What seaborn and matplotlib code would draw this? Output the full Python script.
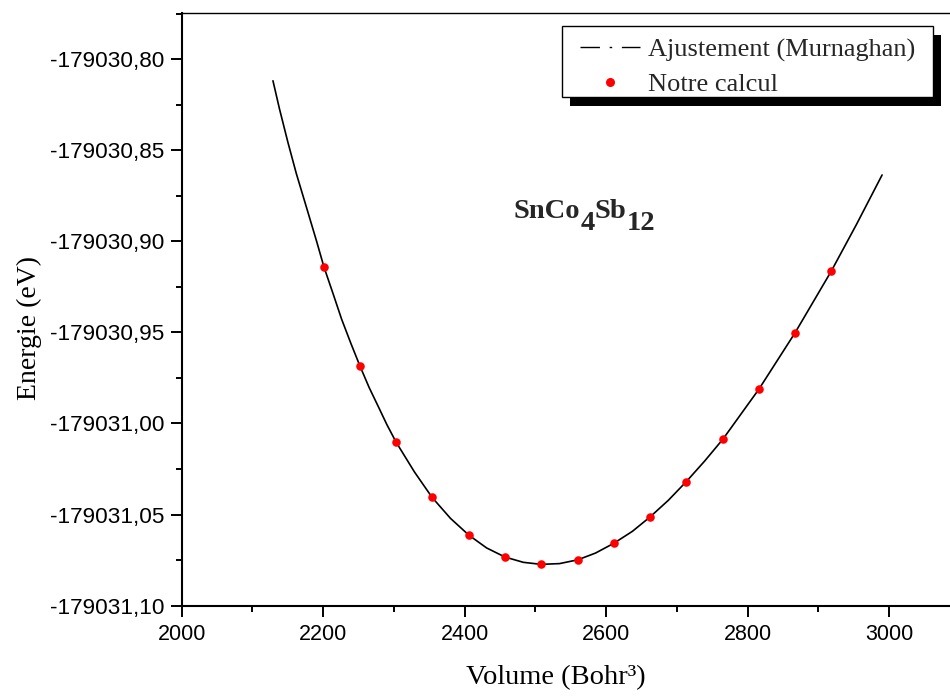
import numpy as np
import pandas as pd
import matplotlib
matplotlib.use("Agg")
import matplotlib.pyplot as plt
import seaborn as sns
from matplotlib.ticker import MultipleLocator, FuncFormatter
from matplotlib.lines import Line2D
from matplotlib.patches import Rectangle

# ---- data ----
volume_calc = [2201, 2252, 2303, 2354, 2406, 2457, 2508, 2560, 2611, 2662,
               2713, 2765, 2816, 2867, 2918]
energy_calc = [-179030.9140, -179030.9685, -179031.0102, -179031.0406, -179031.0613,
               -179031.0733, -179031.0773, -179031.0748, -179031.0657, -179031.0513,
               -179031.0320, -179031.0086, -179030.9811, -179030.9502, -179030.9165]

volume_fit = [2129, 2138, 2150, 2162, 2177, 2191, 2201, 2214, 2226, 2239, 2252, 2265,
              2278, 2290, 2303, 2329, 2354, 2380, 2406, 2431, 2457, 2483, 2508, 2534,
              2560, 2585, 2611, 2637, 2662, 2688, 2713, 2739, 2765, 2816, 2867, 2918,
              2954, 2990]
energy_fit = [-179030.8119, -179030.8270, -179030.8455, -179030.8628, -179030.8822,
              -179030.9004, -179030.9140, -179030.9288, -179030.9427, -179030.9559,
              -179030.9685, -179030.9803, -179030.9908, -179031.0006, -179031.0102,
              -179031.0266, -179031.0406, -179031.0521, -179031.0613, -179031.0683,
              -179031.0733, -179031.0762, -179031.0773, -179031.0769, -179031.0748,
              -179031.0711, -179031.0657, -179031.0592, -179031.0513, -179031.0421,
              -179031.0320, -179031.0207, -179031.0086, -179030.9811, -179030.9502,
              -179030.9165, -179030.8906, -179030.8636]

label_fit = "Ajustement (Murnaghan)"
label_calc = "Notre calcul"
x_label = "Volume (Bohr³)"
y_label = "Energie (eV)"

df_calc = pd.DataFrame({"V": volume_calc, "E": energy_calc})
df_fit = pd.DataFrame({"V": volume_fit, "E": energy_fit})

sns.set_theme(style="ticks")
plt.rcParams["font.family"] = ["Liberation Serif", "DejaVu Serif"]
plt.rcParams["mathtext.fontset"] = "stix"

fig = plt.figure(figsize=(9.5, 6.98), dpi=100)
ax = fig.add_axes([181.7 / 950, 1 - 605.7 / 698, 1 - 181.7 / 950, (605.7 - 13) / 698])

sns.lineplot(data=df_fit, x="V", y="E", sort=False, estimator=None, color="black",
             linewidth=1.2, ax=ax, zorder=2)
sns.scatterplot(data=df_calc, x="V", y="E", color="#ff0000", s=38, linewidth=0,
                ax=ax, zorder=3)

ax.set_xlim(2000, 3086)
ax.set_ylim(-179031.10, -179030.7747)

ax.xaxis.set_major_locator(MultipleLocator(200))
ax.xaxis.set_minor_locator(MultipleLocator(100))
ax.yaxis.set_major_locator(MultipleLocator(0.05))
ax.yaxis.set_minor_locator(MultipleLocator(0.025))
ax.yaxis.set_major_formatter(FuncFormatter(lambda v, p: f"{v:.2f}".replace(".", ",")))
ax.xaxis.set_major_formatter(FuncFormatter(lambda v, p: f"{v:.0f}"))

ax.tick_params(axis="both", which="major", direction="out", length=8, width=1.4,
               color="black")
ax.tick_params(axis="both", which="minor", direction="out", length=4.3, width=1.4,
               color="black")
ax.tick_params(axis="x", which="major", pad=5.5, labelsize=15.5)
ax.tick_params(axis="y", which="major", pad=4.5, labelsize=16.2)
for lab in ax.get_xticklabels() + ax.get_yticklabels():
    lab.set_fontfamily(["Liberation Sans", "DejaVu Sans"])
    lab.set_color("black")

for side in ["left", "bottom"]:
    ax.spines[side].set_linewidth(1.5)
    ax.spines[side].set_color("black")
ax.spines["top"].set_linewidth(1.0)
ax.spines["top"].set_color("black")
ax.spines["right"].set_visible(False)

ax.set_xlabel(x_label, fontsize=20.5, color="black")
ax.set_ylabel(y_label, fontsize=20, color="black")
ax.xaxis.set_label_coords(0.4872, -0.101)
ax.yaxis.set_label_coords(-0.1818, 0.468)

# compound name with full-size lowered subscripts
fs = 20.5
t1 = ax.text(0.4325, 0.6541, "SnCo", transform=ax.transAxes, fontsize=fs,
             fontweight="bold", va="baseline", ha="left")
t2 = ax.annotate("4", xy=(1, 0), xycoords=t1, xytext=(0, -8.6),
                 textcoords="offset points", fontsize=fs, fontweight="bold",
                 va="bottom", ha="left")
t3 = ax.annotate("Sb", xy=(1, 0), xycoords=t2, xytext=(0, 8.6),
                 textcoords="offset points", fontsize=fs, fontweight="bold",
                 va="bottom", ha="left")
t4 = ax.annotate("12", xy=(1, 0), xycoords=t3, xytext=(0, -8.6),
                 textcoords="offset points", fontsize=fs, fontweight="bold",
                 va="bottom", ha="left")

# legend frame + black drop shadow (pixel geometry of the reference)
def px_to_axes(px, py):
    return ((px - 181.7) / (950 - 181.7), 1 - (py - 13) / (605.7 - 13))

fx0, fy1 = px_to_axes(562, 26)
fx1, fy0 = px_to_axes(933, 97)
sx0, sy1 = px_to_axes(570, 35)
sx1, sy0 = px_to_axes(941, 106)
ax.add_patch(Rectangle((sx0, sy0), sx1 - sx0, sy1 - sy0, transform=ax.transAxes,
                       facecolor="black", edgecolor="none", zorder=4.5, clip_on=False))
ax.add_patch(Rectangle((fx0, fy0), fx1 - fx0, fy1 - fy0, transform=ax.transAxes,
                       facecolor="white", edgecolor="black", linewidth=1.0,
                       zorder=4.6, clip_on=False))

handles = [
    Line2D([], [], color="black", linewidth=1.0, linestyle=(0, (14, 7, 1.8, 7))),
    Line2D([], [], color="#ff0000", marker="o", markersize=6.5, linestyle="none",
           markeredgewidth=0),
]
lx, ly = px_to_axes(580, 38)
leg = ax.legend(handles, [label_fit, label_calc], loc="upper left",
                bbox_to_anchor=(lx, ly), borderaxespad=0, fontsize=19,
                frameon=False, handlelength=2.27, handletextpad=0.3,
                borderpad=0, labelspacing=0.42)
leg.set_zorder(5)

fig.savefig("out.png", dpi=100)
